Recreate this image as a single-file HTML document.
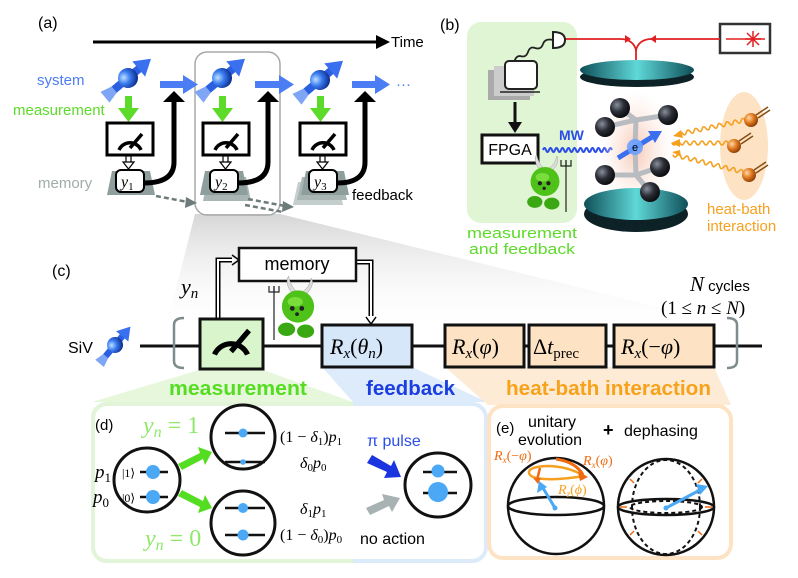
<!DOCTYPE html>
<html><head><meta charset="utf-8"><style>
html,body{margin:0;padding:0;background:#fff}
svg{display:block}
.s{font-family:"Liberation Sans",sans-serif}
.m{font-family:"Liberation Serif",serif}
</style></head><body>
<svg width="798" height="578" viewBox="0 0 798 578" xmlns="http://www.w3.org/2000/svg">
<defs>
<radialGradient id="ball" cx="0.35" cy="0.35" r="0.7"><stop offset="0" stop-color="#bfe0ff"/><stop offset="0.45" stop-color="#3a7cf0"/><stop offset="1" stop-color="#0b2a8a"/></radialGradient>
<radialGradient id="atom" cx="0.35" cy="0.35" r="0.7"><stop offset="0" stop-color="#8a8f9a"/><stop offset="0.5" stop-color="#2a2d35"/><stop offset="1" stop-color="#08090c"/></radialGradient>
<radialGradient id="obal" cx="0.35" cy="0.35" r="0.7"><stop offset="0" stop-color="#ffd9a8"/><stop offset="0.5" stop-color="#e07a20"/><stop offset="1" stop-color="#8a3a05"/></radialGradient>
<linearGradient id="teal" x1="0" y1="0" x2="1" y2="0"><stop offset="0" stop-color="#0f4f58"/><stop offset="0.5" stop-color="#5fd8d8"/><stop offset="1" stop-color="#0f4f58"/></linearGradient>
<linearGradient id="fan" x1="0" y1="0" x2="0" y2="1"><stop offset="0" stop-color="#d6d6d6"/><stop offset="1" stop-color="#ffffff" stop-opacity="0"/></linearGradient>
<radialGradient id="glow" cx="0.5" cy="0.5" r="0.5"><stop offset="0" stop-color="#f7c9b5"/><stop offset="1" stop-color="#fbe8e0" stop-opacity="0"/></radialGradient>
<clipPath id="cg"><rect x="0" y="395" width="353" height="180"/></clipPath>
<g id="spin">
<rect x="-26" y="-4" width="44" height="8" fill="#2a5fe0"/>
<polygon points="14,-10 30,0 14,10" fill="#3a6ff0"/>
<polygon points="-30,-7 -18,-4 -18,4 -30,7" fill="#7fa6f5"/>
<circle r="10" fill="url(#ball)"/>
</g>
<g id="meter">
<path d="M-11 9 A12 12 0 0 1 11 9" fill="none" stroke="#000" stroke-width="3.5"/>
<line x1="0" y1="7" x2="12" y2="-7" stroke="#000" stroke-width="3.5"/>
</g>
<g id="devil">
<path d="M-8,-26 Q-14,-36 -10,-42 Q-8,-32 -2,-26Z" fill="#ddd" stroke="#999" stroke-width="0.5"/>
<path d="M10,-24 Q18,-34 14,-40 Q12,-30 4,-25Z" fill="#ddd" stroke="#999" stroke-width="0.5"/>
<ellipse cx="0" cy="-10" rx="17" ry="17" fill="#4fc21a"/>
<ellipse cx="-3" cy="-15" rx="8" ry="5" fill="#8fe84a" opacity="0.7"/>
<ellipse cx="-12" cy="14" rx="9" ry="7" fill="#3aa812"/>
<ellipse cx="8" cy="16" rx="9" ry="7" fill="#3aa812"/>
<circle cx="-6" cy="-8" r="2.5" fill="#222"/><circle cx="4" cy="-8" r="2.5" fill="#222"/><circle cx="-1" cy="-2" r="2" fill="#222"/>
</g>
</defs>

<polygon points="195,214 280,214 760,332 165,332" fill="url(#fan)"/>

<!-- ===== (a) ===== -->
<text x="38" y="28" class="s" font-size="16">(a)</text>
<line x1="93" y1="42" x2="378" y2="42" stroke="#000" stroke-width="3"/>
<polygon points="376,35 390,42 376,49" fill="#000"/>
<text x="391" y="47" class="s" font-size="15">Time</text>
<text x="37" y="85" class="s" font-size="15" fill="#4d7df5">system</text>
<text x="13" y="115" class="s" font-size="15" fill="#5ddb2a">measurement</text>
<text x="38" y="188" class="s" font-size="15" fill="#a0acac">memory</text>
<text x="352" y="200" class="s" font-size="15">feedback</text>

<rect x="195" y="52" width="85" height="163" rx="12" fill="none" stroke="#a8a8a8" stroke-width="1.5"/>

<g>
<use href="#spin" transform="translate(128,78) rotate(-40)"/>
<use href="#spin" transform="translate(222,78) rotate(-40)"/>
<use href="#spin" transform="translate(320,80) rotate(-40)"/>
</g>
<g fill="#4d7df5">
<rect x="160" y="81" width="24" height="7"/><polygon points="183,75 198,84.5 183,94"/>
<rect x="255" y="81" width="25" height="7"/><polygon points="279,75 294,84.5 279,94"/>
<rect x="352" y="81" width="24" height="7"/><polygon points="375,75 390,84.5 375,94"/>
</g>
<text x="396" y="89" class="s" font-size="15" fill="#4d7df5">···</text>
<g fill="#5ddb2a">
<rect x="125" y="96" width="7" height="13"/><polygon points="118,108 139,108 128.5,122"/>
<rect x="219" y="96" width="7" height="13"/><polygon points="212,108 233,108 222.5,122"/>
<rect x="317" y="96" width="7" height="13"/><polygon points="310,108 331,108 320.5,122"/>
</g>
<g fill="#fff" stroke="#000" stroke-width="3">
<rect x="107" y="123" width="46" height="32"/>
<rect x="203" y="123" width="46" height="32"/>
<rect x="300" y="123" width="46" height="32"/>
</g>
<use href="#meter" transform="translate(130,141)"/>
<use href="#meter" transform="translate(226,141)"/>
<use href="#meter" transform="translate(323,141)"/>
<g stroke="#000" stroke-width="1.2" fill="#fff">
<rect x="126" y="156" width="5" height="7"/><polygon points="123,162 134,162 128.5,169"/>
<rect x="223" y="156" width="5" height="7"/><polygon points="220,162 231,162 225.5,169"/>
<rect x="320" y="156" width="5" height="7"/><polygon points="317,162 328,162 322.5,169"/>
</g>
<polygon points="112,171 150,171 155,195 107,195" fill="#8e9e9c"/>
<polygon points="208,177 246,177 251,201 203,201" fill="#a9b6b4"/>
<polygon points="205,171 243,171 248,195 200,195" fill="#8e9e9c"/>
<polygon points="298,182 338,182 343,205 293,205" fill="#c4cecc"/>
<polygon points="302,177 342,177 347,200 297,200" fill="#aab6b4"/>
<polygon points="306,171 344,171 349,195 301,195" fill="#8e9e9c"/>
<g fill="#fff" stroke="#000" stroke-width="2">
<rect x="116" y="170" width="28" height="22" rx="5"/>
<rect x="210" y="170" width="28" height="22" rx="5"/>
<rect x="309" y="170" width="28" height="22" rx="5"/>
</g>
<text x="121" y="187" class="m" font-size="16" font-style="italic">y<tspan font-size="11" font-style="normal" dy="3">1</tspan></text>
<text x="215" y="187" class="m" font-size="16" font-style="italic">y<tspan font-size="11" font-style="normal" dy="3">2</tspan></text>
<text x="314" y="187" class="m" font-size="16" font-style="italic">y<tspan font-size="11" font-style="normal" dy="3">3</tspan></text>
<g fill="none" stroke="#000" stroke-width="5">
<path d="M144,183 Q174,183 174,162 L174,100"/>
<path d="M238,183 Q268,183 268,162 L268,100"/>
<path d="M337,183 Q365,183 365,162 L365,100"/>
</g>
<g fill="#000">
<polygon points="163,102 185,102 174,91"/>
<polygon points="257,102 279,102 268,91"/>
<polygon points="354,102 376,102 365,91"/>
</g>
<g stroke="#6d7b7a" stroke-width="2.5" stroke-dasharray="5,3" fill="none">
<path d="M156,196 L188,202"/><path d="M248,199 L285,206"/><path d="M245,205 L283,212"/>
</g>
<polygon points="186,197 197,203 185,208" fill="#6d7b7a"/>
<polygon points="283,201 294,207 282,212" fill="#6d7b7a"/>

<!-- ===== (b) ===== -->
<text x="440" y="30" class="s" font-size="16">(b)</text>
<rect x="467" y="22" width="110" height="201" rx="14" fill="#dff5d3"/>
<text x="467" y="238" class="s" font-size="15" fill="#5ddb2a" textLength="110" lengthAdjust="spacingAndGlyphs">measurement</text>
<text x="469" y="254" class="s" font-size="15" fill="#5ddb2a" textLength="106" lengthAdjust="spacingAndGlyphs">and feedback</text>
<ellipse cx="744" cy="146" rx="24" ry="54" fill="#fde3c4"/>
<text x="707" y="214" class="s" font-size="15" fill="#f5a020">heat-bath</text>
<text x="707" y="231" class="s" font-size="15" fill="#f5a020">interaction</text>
<rect x="720" y="24" width="50" height="29" fill="#fff" stroke="#333" stroke-width="2.5"/>
<line x1="726" y1="39" x2="765" y2="39" stroke="#e02020" stroke-width="1.5"/>
<g stroke="#e02020" stroke-width="1.5"><line x1="745" y1="39" x2="761" y2="39"/><line x1="753" y1="31" x2="753" y2="47"/><line x1="747" y1="33" x2="759" y2="45"/><line x1="747" y1="45" x2="759" y2="33"/></g>
<path d="M562,39 L620,39 Q633,39 636,50 Q639,39 652,39 L720,39" fill="none" stroke="#e02020" stroke-width="1.8"/>
<line x1="636" y1="48" x2="636" y2="68" stroke="#e02020" stroke-width="1.8"/>
<polygon points="625,35 631,39 625,43" fill="#e02020"/><polygon points="656,35 650,39 656,43" fill="#e02020"/>
<path d="M553,32 Q565,32 565,40 Q565,48 553,48 Z" fill="#fff" stroke="#222" stroke-width="2"/>
<path d="M553,40 Q545,38 543,44 Q541,50 535,48 Q530,46 528,52 Q526,58 520,56 Q515,56 514,64" fill="none" stroke="#222" stroke-width="1.8"/>
<rect x="488" y="70" width="42" height="30" fill="#aaa"/>
<rect x="494" y="66" width="40" height="30" fill="#ccc"/>
<rect x="505" y="61" width="32" height="28" rx="4" fill="#fff" stroke="#222" stroke-width="2"/>
<path d="M500,92 L540,92" stroke="#222" stroke-width="1.5"/>
<line x1="515" y1="102" x2="515" y2="124" stroke="#111" stroke-width="3"/>
<polygon points="508,122 522,122 515,133" fill="#111"/>
<rect x="482" y="135" width="56" height="28" fill="#fff" stroke="#111" stroke-width="3"/>
<text x="510" y="155" class="s" font-size="16" text-anchor="middle">FPGA</text>
<text x="559" y="140" class="s" font-size="14" font-weight="bold" fill="#2a4de8">MW</text>
<path d="M543,150 q1.5,-4 3,0 t3,0 t3,0 t3,0 t3,0 t3,0 t3,0 t3,0 t3,0 t3,0 t3,0 t3,0 t3,0 t3,0 t3,0 t3,0 t3,0 t3,0 t3,0 t3,0 t3,0 t3,0 t3,0" fill="none" stroke="#2a4de8" stroke-width="2"/>
<use href="#devil" transform="translate(545,190) scale(0.85)"/>
<line x1="566" y1="160" x2="566" y2="212" stroke="#222" stroke-width="1.2"/>
<path d="M561,160 L561,166 L571,166 L571,160 M566,160 L566,166" fill="none" stroke="#222" stroke-width="1.2"/>
<ellipse cx="636" cy="150" rx="36" ry="60" fill="url(#glow)"/>
<ellipse cx="637" cy="77" rx="57" ry="10" fill="#0c2226"/>
<ellipse cx="637" cy="70" rx="57" ry="10" fill="url(#teal)"/>
<ellipse cx="636" cy="214" rx="52" ry="18" fill="#0c2226"/>
<ellipse cx="636" cy="204" rx="52" ry="16" fill="url(#teal)"/>
<g stroke="#b8bcc0" stroke-width="5">
<line x1="635" y1="147" x2="636" y2="120"/><line x1="636" y1="120" x2="620" y2="108"/><line x1="636" y1="120" x2="668" y2="115"/><line x1="636" y1="120" x2="605" y2="127"/>
<line x1="635" y1="147" x2="636" y2="175"/><line x1="636" y1="175" x2="660" y2="167"/><line x1="636" y1="175" x2="605" y2="175"/><line x1="636" y1="175" x2="650" y2="192"/>
</g>
<g fill="url(#atom)">
<circle cx="620" cy="108" r="10"/><circle cx="668" cy="115" r="10"/><circle cx="605" cy="127" r="10"/>
<circle cx="660" cy="167" r="10"/><circle cx="605" cy="175" r="10"/><circle cx="650" cy="192" r="10"/>
</g>
<line x1="618" y1="158" x2="652" y2="137" stroke="#3a6ff0" stroke-width="5"/>
<polygon points="648,131 662,131 655,143" fill="#3a6ff0"/>
<circle cx="635" cy="147" r="8" fill="#6aa0ff" opacity="0.9"/>
<text x="635" y="151" class="s" font-size="11" text-anchor="middle">e</text>
<g fill="none" stroke="#f5a020" stroke-width="1.6">
<path d="M745,120 q-2,-4 -4,0 t-4,0 t-4,0 t-4,0 t-4,0 t-4,0 t-4,0 t-4,0 t-4,0 t-4,0 t-4,0 t-4,0 t-4,0 t-4,0 t-4,0 t-4,0 t-4,0" transform="rotate(-12 745 120)"/>
<path d="M728,143 q-2,-4 -4,0 t-4,0 t-4,0 t-4,0 t-4,0 t-4,0 t-4,0 t-4,0 t-4,0 t-4,0 t-4,0 t-4,0 t-4,0 t-4,0"/>
<path d="M743,172 q-2,-4 -4,0 t-4,0 t-4,0 t-4,0 t-4,0 t-4,0 t-4,0 t-4,0 t-4,0 t-4,0 t-4,0 t-4,0 t-4,0 t-4,0 t-4,0 t-4,0 t-4,0 t-4,0" transform="rotate(14 743 172)"/>
</g>
<polygon points="681,130 673,136 683,138" fill="#f5a020"/>
<polygon points="680,139 671,143 680,147" fill="#f5a020"/>
<polygon points="680,150 672,152 681,157" fill="#f5a020"/>
<g stroke="#8a4a10" stroke-width="1.5">
<line x1="756" y1="115" x2="768" y2="107"/><line x1="758" y1="118" x2="770" y2="110"/>
<line x1="739" y1="141" x2="751" y2="133"/><line x1="741" y1="144" x2="753" y2="136"/>
<line x1="754" y1="170" x2="766" y2="162"/><line x1="756" y1="173" x2="768" y2="165"/>
</g>
<circle cx="751" cy="120" r="7" fill="url(#obal)"/>
<circle cx="734" cy="146" r="7" fill="url(#obal)"/>
<circle cx="749" cy="175" r="7" fill="url(#obal)"/>

<!-- ===== (c) ===== -->
<polygon points="199,370 263,370 353,402 92,402" fill="#e6f7dc"/>
<polygon points="322,367 412,367 487,402 353,402" fill="#deebfa"/>
<polygon points="445,367 714,367 731,405 488,405" fill="#fdebd5"/>
<text x="52" y="276" class="s" font-size="16">(c)</text>
<line x1="140" y1="346" x2="762" y2="346" stroke="#111" stroke-width="3"/>
<text x="68" y="353" class="s" font-size="16">SiV</text>
<use href="#spin" transform="translate(115,345) rotate(-50) scale(0.8)"/>
<path d="M184,318 Q174,318 174,325 L174,361 Q174,368 184,368" fill="none" stroke="#7d8c8c" stroke-width="2.5"/>
<path d="M727,318 Q737,318 737,325 L737,361 Q737,368 727,368" fill="none" stroke="#7d8c8c" stroke-width="2.5"/>
<g fill="none" stroke="#000" stroke-width="5">
<path d="M218,318 L218,260 L232,260"/><path d="M356,262 L371,262 L371,316"/>
</g>
<g fill="none" stroke="#fff" stroke-width="2">
<path d="M218,320 L218,260 L234,260"/><path d="M354,262 L371,262 L371,318"/>
</g>
<path d="M232,255 L239,260 L232,265" fill="none" stroke="#000" stroke-width="1.5"/>
<path d="M366,317 L371,324 L376,317" fill="none" stroke="#000" stroke-width="1.5"/>
<rect x="239" y="248" width="117" height="33" fill="#fff" stroke="#111" stroke-width="2.5"/>
<text x="297" y="270" class="s" font-size="18" text-anchor="middle">memory</text>
<text x="181" y="294" class="m" font-size="22" font-style="italic">y<tspan font-size="15" dy="4">n</tspan></text>
<rect x="200" y="319" width="63" height="50" fill="#d9f5cc" stroke="#111" stroke-width="3"/>
<use href="#meter" transform="translate(231,341) scale(1.5)"/>
<use href="#devil" transform="translate(298,316) scale(0.95)"/>
<line x1="274" y1="286" x2="274" y2="340" stroke="#222" stroke-width="1.2"/>
<path d="M269,286 L269,292 L279,292 L279,286 M274,286 L274,292" fill="none" stroke="#222" stroke-width="1.2"/>
<rect x="322" y="325" width="90" height="42" fill="#d6e7fa" stroke="#111" stroke-width="3"/>
<rect x="445" y="325" width="79" height="42" fill="#fde3c4" stroke="#111" stroke-width="3"/>
<rect x="529" y="325" width="77" height="42" fill="#fde3c4" stroke="#111" stroke-width="3"/>
<rect x="614" y="325" width="100" height="42" fill="#fde3c4" stroke="#111" stroke-width="3"/>
<g class="m" font-size="22">
<text x="330" y="354"><tspan font-style="italic">R</tspan><tspan font-style="italic" font-size="15" dy="4">x</tspan><tspan dy="-4">(</tspan><tspan font-style="italic">θ</tspan><tspan font-style="italic" font-size="15" dy="4">n</tspan><tspan dy="-4">)</tspan></text>
<text x="452" y="354"><tspan font-style="italic">R</tspan><tspan font-style="italic" font-size="15" dy="4">x</tspan><tspan dy="-4">(</tspan><tspan font-style="italic">φ</tspan>)</text>
<text x="533" y="354">Δ<tspan font-style="italic">t</tspan><tspan font-size="15" dy="4">prec</tspan></text>
<text x="621" y="354"><tspan font-style="italic">R</tspan><tspan font-style="italic" font-size="15" dy="4">x</tspan><tspan dy="-4">(−</tspan><tspan font-style="italic">φ</tspan>)</text>
</g>
<text x="690" y="291"><tspan class="m" font-size="21" font-style="italic">N</tspan><tspan class="s" font-size="15"> cycles</tspan></text>
<text x="661" y="314" class="m" font-size="19">(1 ≤ <tspan font-style="italic">n</tspan> ≤ <tspan font-style="italic">N</tspan>)</text>
<text x="169" y="395" class="s" font-size="20" font-weight="bold" fill="#55dd22" textLength="138" lengthAdjust="spacingAndGlyphs">measurement</text>
<text x="366" y="395" class="s" font-size="20" font-weight="bold" fill="#1a3ee0" textLength="89" lengthAdjust="spacingAndGlyphs">feedback</text>
<text x="506" y="395" class="s" font-size="20" font-weight="bold" fill="#f7a21b" textLength="205" lengthAdjust="spacingAndGlyphs">heat-bath interaction</text>

<!-- ===== (d) ===== -->
<rect x="93" y="404" width="393" height="157" rx="14" fill="#fff" stroke="#dcebfa" stroke-width="4"/>
<rect x="93" y="404" width="393" height="157" rx="14" fill="none" stroke="#e3f5d8" stroke-width="4" clip-path="url(#cg)"/>
<text x="95" y="430" class="s" font-size="15">(d)</text>
<text x="143" y="433" class="m" font-size="24" fill="#8fe86a"><tspan font-style="italic">y</tspan><tspan font-style="italic" font-size="16" dy="4">n</tspan><tspan dy="-4"> = 1</tspan></text>
<text x="145" y="546" class="m" font-size="24" fill="#8fe86a"><tspan font-style="italic">y</tspan><tspan font-style="italic" font-size="16" dy="4">n</tspan><tspan dy="-4"> = 0</tspan></text>
<g fill="none" stroke="#111" stroke-width="3">
<ellipse cx="147" cy="480" rx="33" ry="32"/>
<ellipse cx="243" cy="437" rx="32" ry="32"/>
<ellipse cx="243" cy="523" rx="32" ry="32"/>
<ellipse cx="438" cy="485" rx="33" ry="32"/>
</g>
<g stroke="#111" stroke-width="2.5">
<line x1="140" y1="472" x2="168" y2="472"/><line x1="140" y1="497" x2="168" y2="497"/>
<line x1="225" y1="433" x2="265" y2="433"/><line x1="225" y1="462" x2="265" y2="462"/>
<line x1="225" y1="508" x2="265" y2="508"/><line x1="225" y1="535" x2="265" y2="535"/>
<line x1="423" y1="472" x2="457" y2="472"/><line x1="423" y1="493" x2="457" y2="493"/>
</g>
<g fill="#4aa8f5">
<circle cx="153" cy="472" r="7"/><circle cx="153" cy="497" r="7"/>
<circle cx="243" cy="433" r="4.5"/><circle cx="243" cy="462" r="2.8"/>
<circle cx="243" cy="508" r="5"/><circle cx="243" cy="535" r="5.5"/>
<circle cx="438" cy="471" r="6.5"/><circle cx="438" cy="492" r="10"/>
</g>
<text x="95" y="478" class="m" font-size="19" font-style="italic">p<tspan font-size="13" font-style="normal" dy="4">1</tspan></text>
<text x="93" y="503" class="m" font-size="19" font-style="italic">p<tspan font-size="13" font-style="normal" dy="4">0</tspan></text>
<text x="122" y="477" class="m" font-size="12">|1⟩</text>
<text x="122" y="502" class="m" font-size="12">|0⟩</text>
<g fill="#55dd22">
<polygon points="178,464 200,453 198,447 212,452 205,465 203,459 182,470"/>
<polygon points="182,490 203,501 205,495 212,508 198,513 200,507 178,496"/>
</g>
<g class="m" font-size="16">
<text x="280" y="442">(1 − <tspan font-style="italic">δ</tspan><tspan font-size="11" dy="3">1</tspan><tspan dy="-3">)</tspan><tspan font-style="italic">p</tspan><tspan font-size="11" dy="3">1</tspan></text>
<text x="300" y="468"><tspan font-style="italic">δ</tspan><tspan font-size="11" dy="3">0</tspan><tspan font-style="italic" dy="-3">p</tspan><tspan font-size="11" dy="3">0</tspan></text>
<text x="300" y="514"><tspan font-style="italic">δ</tspan><tspan font-size="11" dy="3">1</tspan><tspan font-style="italic" dy="-3">p</tspan><tspan font-size="11" dy="3">1</tspan></text>
<text x="280" y="540">(1 − <tspan font-style="italic">δ</tspan><tspan font-size="11" dy="3">0</tspan><tspan dy="-3">)</tspan><tspan font-style="italic">p</tspan><tspan font-size="11" dy="3">0</tspan></text>
</g>
<text x="367" y="446" class="s" font-size="16" fill="#2a4de8">π pulse</text>
<text x="360" y="544" class="s" font-size="16">no action</text>
<polygon points="367,463 372,455 391,466 394,460 401,477 384,478 387,472" fill="#1a35e0"/>
<polygon points="370,515 366,508 384,500 382,494 400,498 392,512 389,506" fill="#a8b2b2"/>

<!-- ===== (e) ===== -->
<rect x="489" y="406" width="242" height="152" rx="14" fill="#fff" stroke="#fde3c4" stroke-width="4"/>
<text x="496" y="433" class="s" font-size="15">(e)</text>
<text x="528" y="427" class="s" font-size="16">unitary</text>
<text x="518" y="445" class="s" font-size="16">evolution</text>
<text x="603" y="436" class="s" font-size="18" font-weight="bold">+</text>
<text x="624" y="436" class="s" font-size="16">dephasing</text>
<g fill="none" stroke="#111" stroke-width="2.5">
<circle cx="556" cy="506" r="48"/>
<ellipse cx="556" cy="506" rx="48" ry="9"/>
<circle cx="666" cy="507" r="48"/>
<ellipse cx="666" cy="507" rx="48" ry="8"/>
</g>
<g fill="none" stroke="#111" stroke-width="2" stroke-dasharray="4,3">
<ellipse cx="666" cy="507" rx="36" ry="6"/>
<ellipse cx="666" cy="507" rx="34" ry="47"/>
</g>
<path d="M529,473 Q528,467 546,466 Q568,466 584,476 Q560,480 544,479 Q530,478 529,473Z" fill="none" stroke="#f5a020" stroke-width="2.5"/>
<path d="M556,459 Q576,462 583,475" fill="none" stroke="#f06a10" stroke-width="3"/>
<polygon points="578,472 588,477 580,481" fill="#f06a10"/>
<path d="M540,468 L537,480" stroke="#f06a10" stroke-width="2.5"/>
<polygon points="533,478 541,478 538,484" fill="#f06a10"/>
<line x1="555" y1="508" x2="543" y2="488" stroke="#4aa8f5" stroke-width="3"/>
<polygon points="537,493 547,487 539,481" fill="#4aa8f5"/>
<circle cx="555" cy="508" r="2.5" fill="#4aa8f5"/>
<text x="494" y="460" class="m" font-size="14" font-style="italic" fill="#f06a10">R<tspan font-size="9" dy="3">x</tspan><tspan font-style="normal" dy="-3">(−</tspan>φ<tspan font-style="normal">)</tspan></text>
<text x="583" y="465" class="m" font-size="14" font-style="italic" fill="#f06a10">R<tspan font-size="9" dy="3">x</tspan><tspan font-style="normal" dy="-3">(</tspan>φ<tspan font-style="normal">)</tspan></text>
<text x="558" y="494" class="m" font-size="14" font-style="italic" fill="#f5a020">R<tspan font-size="9" dy="3">z</tspan><tspan font-style="normal" dy="-3">(</tspan>ϕ<tspan font-style="normal">)</tspan></text>
<line x1="666" y1="508" x2="700" y2="490" stroke="#4aa8f5" stroke-width="3"/>
<polygon points="696,484 708,486 700,495" fill="#4aa8f5"/>
<circle cx="666" cy="508" r="2.5" fill="#4aa8f5"/>
<g stroke="#f06a10" stroke-width="1.5">
<line x1="630" y1="479" x2="634" y2="483"/><line x1="702" y1="479" x2="698" y2="483"/>
<line x1="620" y1="507" x2="627" y2="507"/><line x1="712" y1="507" x2="705" y2="507"/>
<line x1="630" y1="535" x2="634" y2="531"/><line x1="702" y1="535" x2="698" y2="531"/>
</g>
</svg>
</body></html>
